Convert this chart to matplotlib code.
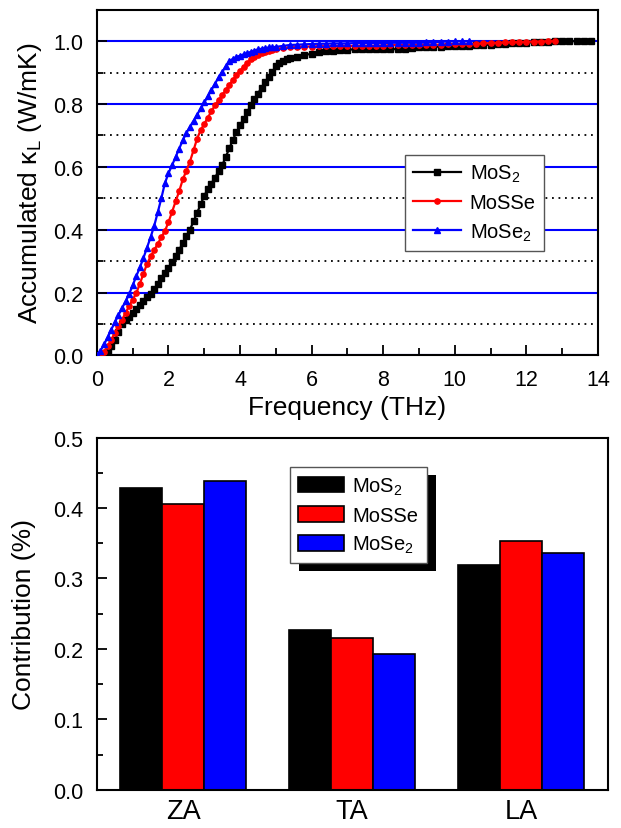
import numpy as np
import matplotlib
matplotlib.use('Agg')
import matplotlib.pyplot as plt
from matplotlib.ticker import MultipleLocator
from matplotlib.patches import Rectangle
from matplotlib.transforms import offset_copy

plt.rcParams['font.family'] = ['Liberation Sans', 'DejaVu Sans']
plt.rcParams['mathtext.fontset'] = 'custom'
plt.rcParams['mathtext.rm'] = 'Liberation Sans'
plt.rcParams['mathtext.it'] = 'Liberation Sans:italic'

# accumulated kappa_L vs frequency (THz)
freq_mos2 = [0.0, 0.1, 0.2, 0.3, 0.4, 0.5, 0.6, 0.7, 0.8, 0.9,
             1.0, 1.1, 1.2, 1.3, 1.4, 1.5, 1.6, 1.7, 1.8, 1.9,
             2.0, 2.1, 2.2, 2.3, 2.4, 2.5, 2.6, 2.7, 2.8, 2.9,
             3.0, 3.1, 3.2, 3.3, 3.4, 3.5, 3.6, 3.7, 3.8, 3.9,
             4.0, 4.1, 4.2, 4.3, 4.4, 4.5, 4.6, 4.7, 4.8, 4.9,
             5.0, 5.1, 5.2, 5.3, 5.4, 5.6, 5.8, 6.0, 6.2, 6.4,
             6.6, 6.8, 7.0, 7.2, 7.4, 7.6, 7.8, 8.0, 8.2, 8.4,
             8.6, 8.8, 9.0, 9.2, 9.4, 9.6, 9.8, 10.0, 10.2, 10.4,
             10.6, 10.8, 11.0, 11.2, 11.4, 11.6, 11.8, 12.0, 12.2, 12.4,
             12.6, 12.8, 13.0, 13.2, 13.4, 13.6, 13.8]
kap_mos2 = [0.000, 0.002, 0.006, 0.015, 0.030, 0.050, 0.075, 0.100, 0.112, 0.124,
            0.136, 0.148, 0.160, 0.172, 0.185, 0.197, 0.212, 0.228, 0.245, 0.262,
            0.279, 0.296, 0.315, 0.336, 0.358, 0.379, 0.400, 0.427, 0.454, 0.481,
            0.508, 0.530, 0.547, 0.566, 0.586, 0.605, 0.632, 0.659, 0.686, 0.711,
            0.732, 0.753, 0.775, 0.796, 0.815, 0.833, 0.852, 0.870, 0.886, 0.902,
            0.920, 0.931, 0.938, 0.944, 0.948, 0.951, 0.956, 0.960, 0.965, 0.968,
            0.970, 0.972, 0.973, 0.974, 0.974, 0.974, 0.974, 0.974, 0.974, 0.975,
            0.976, 0.978, 0.980, 0.981, 0.982, 0.983, 0.984, 0.985, 0.985, 0.986,
            0.987, 0.988, 0.989, 0.990, 0.991, 0.993, 0.994, 0.995, 0.997, 0.998,
            0.999, 1.000, 1.000, 1.000, 1.000, 1.000, 1.000]

freq_mosse = [0.0, 0.1, 0.2, 0.3, 0.4, 0.5, 0.6, 0.7, 0.8, 0.9,
              1.0, 1.1, 1.2, 1.3, 1.4, 1.5, 1.6, 1.7, 1.8, 1.9,
              2.0, 2.1, 2.2, 2.3, 2.4, 2.5, 2.6, 2.7, 2.8, 2.9,
              3.0, 3.1, 3.2, 3.3, 3.4, 3.5, 3.6, 3.7, 3.8, 3.9,
              4.0, 4.1, 4.2, 4.3, 4.4, 4.5, 4.6, 4.7, 4.8, 4.9,
              5.0, 5.2, 5.4, 5.6, 5.8, 6.0, 6.2, 6.4, 6.6, 6.8,
              7.0, 7.2, 7.4, 7.6, 7.8, 8.0, 8.2, 8.4, 8.6, 8.8,
              9.0, 9.2, 9.4, 9.6, 9.8, 10.0, 10.2, 10.4, 10.6, 10.8,
              11.0, 11.2, 11.4, 11.6, 11.8, 12.0, 12.2, 12.4, 12.6, 12.8]
kap_mosse = [0.000, 0.003, 0.012, 0.030, 0.050, 0.072, 0.093, 0.113, 0.135, 0.157,
             0.178, 0.198, 0.228, 0.260, 0.291, 0.315, 0.335, 0.355, 0.376, 0.396,
             0.424, 0.457, 0.490, 0.523, 0.560, 0.588, 0.617, 0.653, 0.690, 0.717,
             0.737, 0.757, 0.777, 0.796, 0.812, 0.828, 0.845, 0.861, 0.877, 0.893,
             0.905, 0.918, 0.930, 0.942, 0.950, 0.955, 0.961, 0.966, 0.970, 0.973,
             0.975, 0.978, 0.980, 0.982, 0.983, 0.983, 0.984, 0.984, 0.984, 0.985,
             0.985, 0.985, 0.985, 0.985, 0.985, 0.986, 0.987, 0.988, 0.988, 0.988,
             0.988, 0.989, 0.989, 0.989, 0.990, 0.990, 0.990, 0.991, 0.992, 0.993,
             0.994, 0.995, 0.996, 0.997, 0.997, 0.998, 0.999, 0.999, 1.000, 1.000]

freq_mose2 = [0.0, 0.1, 0.2, 0.3, 0.4, 0.5, 0.6, 0.7, 0.8, 0.9,
              1.0, 1.1, 1.2, 1.3, 1.4, 1.5, 1.6, 1.7, 1.8, 1.9,
              2.0, 2.1, 2.2, 2.3, 2.4, 2.5, 2.6, 2.7, 2.8, 2.9,
              3.0, 3.1, 3.2, 3.3, 3.4, 3.5, 3.6, 3.7, 3.8, 3.9,
              4.0, 4.1, 4.2, 4.3, 4.4, 4.5, 4.6, 4.7, 4.8, 4.9,
              5.0, 5.2, 5.4, 5.6, 5.8, 6.0, 6.2, 6.4, 6.6, 6.8,
              7.0, 7.2, 7.4, 7.6, 7.8, 8.0, 8.2, 8.4, 8.6, 8.8,
              9.0, 9.2, 9.4, 9.6, 9.8, 10.0, 10.2, 10.4]
kap_mose2 = [0.000, 0.015, 0.035, 0.058, 0.082, 0.105, 0.128, 0.150, 0.172, 0.195,
             0.223, 0.252, 0.280, 0.310, 0.343, 0.376, 0.412, 0.455, 0.500, 0.548,
             0.580, 0.605, 0.632, 0.658, 0.685, 0.708, 0.728, 0.747, 0.766, 0.786,
             0.805, 0.825, 0.845, 0.865, 0.885, 0.902, 0.920, 0.936, 0.944, 0.950,
             0.954, 0.958, 0.962, 0.966, 0.970, 0.974, 0.976, 0.978, 0.980, 0.981,
             0.982, 0.985, 0.988, 0.989, 0.990, 0.991, 0.992, 0.992, 0.993, 0.993,
             0.993, 0.994, 0.994, 0.994, 0.994, 0.994, 0.995, 0.995, 0.995, 0.995,
             0.995, 0.996, 0.997, 0.998, 0.999, 1.000, 1.000, 1.000]

# contribution of each branch
modes = ['ZA', 'TA', 'LA']
contrib_mos2 = [0.428, 0.227, 0.319]
contrib_mosse = [0.405, 0.216, 0.353]
contrib_mose2 = [0.438, 0.193, 0.336]

labels = [r'MoS$_\mathregular{2}$', 'MoSSe', r'MoSe$_\mathregular{2}$']
colors = ['#000000', '#ff0000', '#0000ff']


def style_axes(ax):
    for sp in ax.spines.values():
        sp.set_linewidth(1.5)
    ax.tick_params(which='both', direction='in', width=1.3, top=False, right=False)
    ax.tick_params(which='major', length=7, labelsize=15.5, pad=10)
    ax.tick_params(which='minor', length=4)


fig = plt.figure(figsize=(6.21, 8.29), dpi=100)
ax1 = fig.add_axes([0.156, 0.570, 0.807, 0.417])
ax2 = fig.add_axes([0.156, 0.046, 0.823, 0.425])

# top: accumulated thermal conductivity
series = [(freq_mos2, kap_mos2, 's', 3.8),
          (freq_mosse, kap_mosse, 'o', 3.8),
          (freq_mose2, kap_mose2, '^', 4.8)]
for (f, k, m, ms), c, lab in zip(series, colors, labels):
    ax1.plot(f, k, color=c, marker=m, ms=ms, lw=1.6, label=lab, zorder=3)

ax1.set_xlim(0, 14)
ax1.set_ylim(0, 1.1)
ax1.xaxis.set_major_locator(MultipleLocator(2))
ax1.xaxis.set_minor_locator(MultipleLocator(1))
ax1.yaxis.set_major_locator(MultipleLocator(0.2))
ax1.yaxis.set_minor_locator(MultipleLocator(0.1))
ax1.grid(True, axis='y', which='major', color='#0000ff', lw=1.5)
ax1.grid(True, axis='y', which='minor', color='k', lw=1.3, ls=(0, (1, 2.6)))
ax1.set_axisbelow(True)
style_axes(ax1)
ax1.tick_params(axis='x', which='minor', length=5)
ax1.set_xlabel('Frequency (THz)', fontsize=19, labelpad=3)
ax1.set_ylabel(r'Accumulated κ$_\mathregular{L}$ (W/mK)', fontsize=19, labelpad=6)

leg1 = ax1.legend(loc='upper left', bbox_to_anchor=(0.615, 0.58), fontsize=14.5,
                  fancybox=False, edgecolor='#555555', framealpha=1,
                  handlelength=2.4, borderpad=0.4, labelspacing=0.45,
                  handletextpad=0.4, borderaxespad=0)
leg1.get_frame().set_linewidth(1.0)

# bottom: contribution of ZA / TA / LA
x = np.arange(len(modes))
width = 0.25
bars = [contrib_mos2, contrib_mosse, contrib_mose2]
for i, (vals, c, lab) in enumerate(zip(bars, colors, labels)):
    ax2.bar(x + (i - 1) * width, vals, width, color=c, edgecolor='k',
            lw=1.2, label=lab)

ax2.set_xlim(-0.51, 2.515)
ax2.set_ylim(0, 0.5)
ax2.yaxis.set_major_locator(MultipleLocator(0.1))
ax2.yaxis.set_minor_locator(MultipleLocator(0.05))
style_axes(ax2)
ax2.set_xticks(x)
ax2.set_xticklabels(modes)
ax2.tick_params(axis='x', length=0, labelsize=19.5, pad=6)
ax2.set_ylabel('Contribution (%)', fontsize=19, labelpad=12)

leg2 = ax2.legend(loc='upper left', bbox_to_anchor=(0.378, 0.915), fontsize=14.5,
                  fancybox=False, edgecolor='#555555', framealpha=1,
                  handlelength=2.3, handleheight=0.8, borderpad=0.4,
                  labelspacing=0.45, handletextpad=0.4, borderaxespad=0)
leg2.get_frame().set_linewidth(1.0)
leg2.set_zorder(6)

# solid black drop shadow behind the bar legend
fig.canvas.draw()
bb = leg2.get_frame().get_window_extent()
(x0, y0), (x1, y1) = ax2.transAxes.inverted().transform([[bb.x0, bb.y0], [bb.x1, bb.y1]])
shadow = Rectangle((x0, y0), x1 - x0, y1 - y0, facecolor='k', edgecolor='none',
                   transform=offset_copy(ax2.transAxes, fig=fig, x=9, y=-8, units='dots'),
                   clip_on=False, zorder=5)
ax2.add_patch(shadow)

fig.savefig('out.png', dpi=100)
